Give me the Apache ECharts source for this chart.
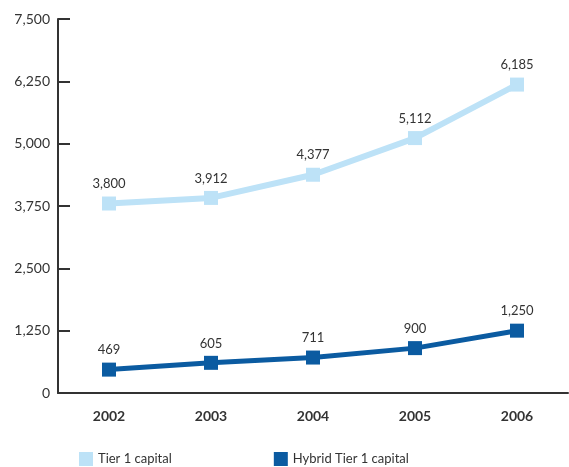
<!DOCTYPE html>
<html>
<head>
<meta charset="utf-8">
<script src="https://cdn.jsdelivr.net/npm/echarts@6/dist/echarts.min.js"></script>
<style>
  html, body { margin: 0; padding: 0; background: #fff; }
  #chart { width: 569px; height: 467px; }
</style>
</head>
<body>
<div id="chart"></div>
<script>
// Capital figures by year
const years = ['2002', '2003', '2004', '2005', '2006'];
const tier1 = [3800, 3912, 4377, 5112, 6185];
const hybridTier1 = [469, 605, 711, 900, 1250];
const seriesNames = ['Tier 1 capital', 'Hybrid Tier 1 capital'];

const FONT = 'Lato, "DejaVu Sans", sans-serif';
const AXIS_COLOR = '#333333';
const TEXT_COLOR = '#333333';

const chart = echarts.init(document.getElementById('chart'), null, { renderer: 'canvas' });

function lineSeries(name, data, color, width) {
  return {
    name: name,
    type: 'line',
    data: data,
    symbol: 'rect',
    symbolSize: 14,
    lineStyle: { color: color, width: width },
    itemStyle: { color: color },
    label: {
      show: true,
      position: 'top',
      distance: 6,
      color: TEXT_COLOR,
      fontFamily: FONT,
      fontSize: 13,
      formatter: p => p.value.toLocaleString('en-US')
    },
    animation: false
  };
}

chart.setOption({
  backgroundColor: '#ffffff',
  animation: false,
  grid: { left: 58, right: 1, top: 19, bottom: 74, containLabel: false },
  legend: {
    left: 74,
    bottom: -4,
    itemWidth: 14,
    itemHeight: 14,
    itemGap: 102,
    icon: 'rect',
    textStyle: { color: TEXT_COLOR, fontFamily: FONT, fontSize: 13 },
    data: seriesNames
  },
  xAxis: {
    type: 'category',
    data: years,
    boundaryGap: true,
    axisLine: { lineStyle: { color: AXIS_COLOR, width: 2 } },
    axisTick: { alignWithLabel: true, inside: true, length: 8, lineStyle: { color: AXIS_COLOR, width: 1.5 } },
    axisLabel: { color: TEXT_COLOR, fontFamily: FONT, fontSize: 14, fontWeight: 'bold', margin: 16 },
    splitLine: { show: false }
  },
  yAxis: {
    type: 'value',
    min: 0,
    max: 7500,
    interval: 1250,
    axisLine: { show: true, lineStyle: { color: AXIS_COLOR, width: 2 } },
    axisTick: { show: true, inside: true, length: 12, lineStyle: { color: AXIS_COLOR, width: 2 } },
    axisLabel: {
      color: TEXT_COLOR, fontFamily: FONT, fontSize: 14, margin: 8,
      formatter: v => v.toLocaleString('en-US')
    },
    splitLine: { show: false }
  },
  series: [
    lineSeries(seriesNames[0], tier1, '#bde2f7', 6),
    lineSeries(seriesNames[1], hybridTier1, '#0b5ba1', 5)
  ]
});
</script>
</body>
</html>
